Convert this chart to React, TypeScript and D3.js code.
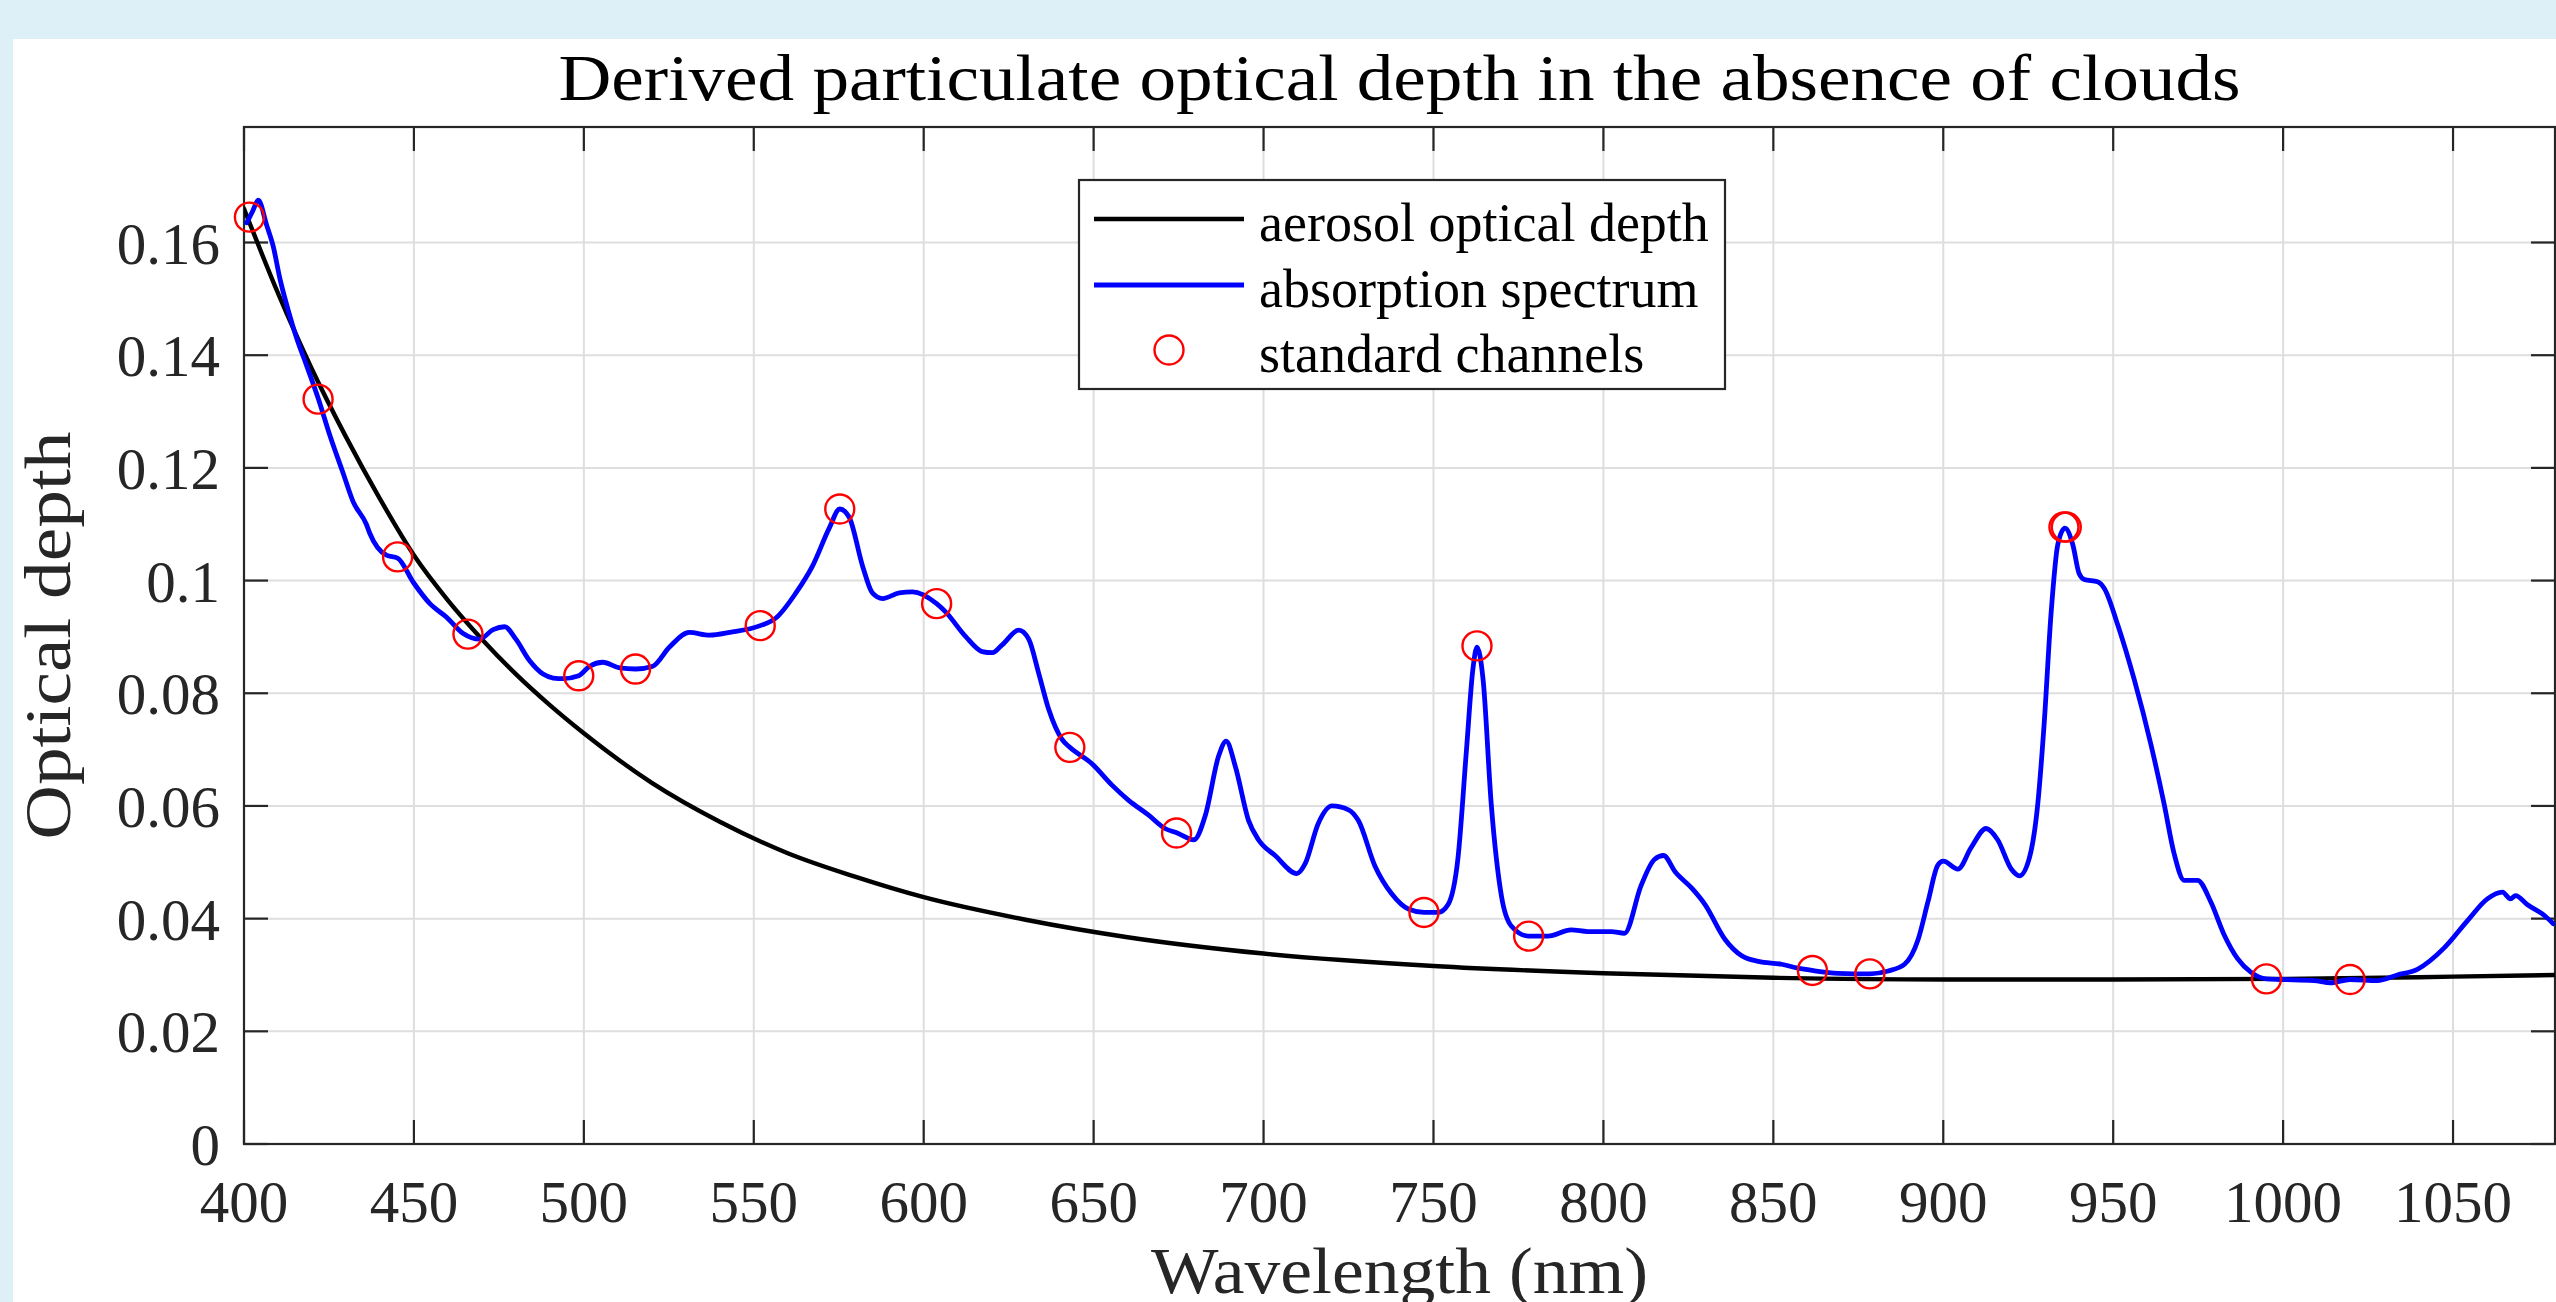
import * as d3 from 'd3'

// aerosol optical depth (black smooth curve)
const aodWl = [400, 410, 420, 430, 440, 450, 460, 470, 480, 490, 500, 520, 540, 560, 580, 600, 630, 660, 700, 750, 800, 850, 900, 950, 1000, 1050, 1080]
const aodVal = [0.166, 0.151, 0.1375, 0.1255, 0.1145, 0.1045, 0.0965, 0.0896, 0.0834, 0.0779, 0.0729, 0.0641, 0.0572, 0.0516, 0.0474, 0.0438, 0.0398, 0.0367, 0.0338, 0.0316, 0.0303, 0.0295, 0.0292, 0.0292, 0.0293, 0.0297, 0.03]

// absorption spectrum (blue)
const specWl = [
  400.8, 402.5, 404.2, 406.7, 408.6, 410.6, 413, 415.5, 418.4, 421.8, 425.3, 429.2, 432.1, 436, 437, 441.9, 445.2, 449.8,
  454.7, 459.6, 464.5, 469.3, 473.3, 476.7, 480, 484, 488, 491, 494, 498.5, 501.7, 505.6, 510.5, 515.2, 520.3, 525.2,
  531, 537, 543, 551.9, 556.6, 562.4, 567.3, 572.2, 575.3, 578.1, 582, 584.9, 587.9, 592.8, 596.7, 603.8, 606.5, 612.3,
  617.2, 620.2, 623.1, 628, 630.9, 633.9, 636.8, 640.7, 643, 649.5, 655.4, 660.3, 666.1, 671, 674.6, 679.5, 682.9, 686.8,
  689, 691.7, 695.6, 698.5, 703.4, 709.8, 712.2, 716.1, 720.1, 725, 727.9, 732.8, 737.7, 742.6, 747.2, 751.4, 754.3,
  757.2, 759.7, 761.6, 762.8, 764.6, 767, 770, 772.9, 778, 783.7, 790.5, 795.4, 802.3, 806.2, 811.1, 815, 817.7, 821.1,
  826, 829.9, 835.8, 840.7, 845.6, 852.4, 857.3, 861.5, 869.1, 878.4, 883.8, 888.6, 892.6, 895.5, 898.4, 900, 904.3,
  908.2, 912.6, 916, 920, 922.4, 925.3, 927.8, 929.7, 931.7, 933.7, 935.8, 938.1, 940, 941.5, 945.4, 947.4, 951.3,
  956.2, 961.1, 965, 967.9, 970.9, 974.8, 978.7, 982.6, 986.6, 990.5, 995.1, 999.3, 1009.1, 1014, 1019.7, 1027.7,
  1033.6, 1039.5, 1047.4, 1054.2, 1060.1, 1064.5, 1066.9, 1068.4, 1071.8, 1076.8, 1079.5,
]
const specVal = [
  0.1635, 0.1655, 0.1675, 0.163, 0.1593, 0.1535, 0.148, 0.143, 0.1382, 0.1324, 0.1257, 0.119, 0.114, 0.11, 0.1084, 0.1045, 0.104, 0.0997,
  0.0959, 0.0935, 0.0906, 0.0896, 0.0913, 0.0918, 0.0896, 0.0858, 0.0834, 0.0827, 0.0826, 0.0831, 0.0848, 0.0855, 0.0845, 0.0843, 0.0848, 0.0882,
  0.0908, 0.0903, 0.0908, 0.092, 0.0934, 0.0978, 0.1026, 0.1093, 0.1127, 0.1112, 0.1026, 0.0978, 0.0968, 0.0978, 0.098, 0.0959, 0.0944, 0.0901,
  0.0874, 0.0872, 0.0886, 0.0912, 0.0896, 0.0834, 0.0771, 0.0718, 0.0704, 0.0675, 0.0637, 0.061, 0.0584, 0.056, 0.0552, 0.054, 0.0584, 0.0689,
  0.0715, 0.067, 0.0574, 0.054, 0.0512, 0.048, 0.0497, 0.0569, 0.06, 0.0593, 0.0574, 0.0493, 0.0444, 0.0417, 0.0411, 0.0411, 0.0425,
  0.0507, 0.0699, 0.0843, 0.0882, 0.0824, 0.0603, 0.044, 0.0387, 0.0369, 0.0369, 0.038, 0.0377, 0.0377, 0.0374, 0.0459, 0.0505, 0.0512, 0.0483,
  0.0454, 0.0425, 0.0363, 0.0334, 0.0324, 0.0319, 0.0312, 0.0308, 0.0303, 0.0302, 0.0307, 0.0319, 0.0363, 0.043, 0.0495, 0.0502, 0.0488,
  0.0526, 0.056, 0.054, 0.0488, 0.0476, 0.0507, 0.0603, 0.0747, 0.094, 0.1064, 0.1093, 0.1064, 0.1012, 0.1002, 0.0998, 0.0986, 0.0922,
  0.0824, 0.0709, 0.0603, 0.0516, 0.0468, 0.0468, 0.043, 0.0372, 0.0329, 0.0305, 0.0293, 0.0292, 0.029, 0.0286, 0.0292, 0.029,
  0.03, 0.031, 0.0348, 0.0396, 0.0435, 0.0447, 0.0435, 0.0441, 0.0425, 0.0406, 0.0391,
]

// standard channels (red circles)
const chanWl = [401.6, 421.8, 445.2, 465.9, 498.5, 515.2, 551.9, 575.3, 603.8, 643, 674.4, 747.2, 762.8, 778, 861.5, 878.4, 935.5, 936.2, 995.1, 1019.7]
const chanVal = [0.1645, 0.1322, 0.1042, 0.0905, 0.0831, 0.0843, 0.092, 0.1127, 0.0959, 0.0704, 0.0552, 0.0411, 0.0884, 0.0369, 0.0308, 0.0302, 0.1095, 0.1095, 0.0293, 0.0292]

const xTicks = [400, 450, 500, 550, 600, 650, 700, 750, 800, 850, 900, 950, 1000, 1050]
const yTicks = [0, 0.02, 0.04, 0.06, 0.08, 0.1, 0.12, 0.14, 0.16]

const legendLabels = ['aerosol optical depth', 'absorption spectrum', 'standard channels']

const W = 2556
const H = 1302
const L = 244
const R = 2555
const T = 127
const B = 1144
const AX = '#262626'
const GRID = '#dedede'
const TIMES = '"Liberation Serif", "Times New Roman", serif'

export default function App() {
  const x = d3.scaleLinear().domain([400, 1080]).range([L, R])
  const y = d3.scaleLinear().domain([0, 0.1805]).range([B, T])

  const line = d3
    .line<[number, number]>()
    .x(d => x(d[0]))
    .y(d => y(d[1]))
    .curve(d3.curveMonotoneX)

  const aodPath = line(aodWl.map((w, i) => [w, aodVal[i]])) || ''
  const specPath = line(specWl.map((w, i) => [w, specVal[i]])) || ''

  const tickLen = 24
  const fmt = (v: number) => String(+v.toFixed(2))

  // legend box
  const lgX = 1079
  const lgY = 180
  const lgW = 646
  const lgH = 209
  const rowY = [219, 285, 350]

  return (
    <svg
      width={W}
      height={H}
      style={{ position: 'fixed', left: 0, top: 0, display: 'block' }}
    >
      <defs>
        <clipPath id="plotClip">
          <rect x={L} y={T} width={R - L} height={B - T} />
        </clipPath>
      </defs>
      <rect x={0} y={0} width={W} height={H} fill="#def0f7" />
      <rect x={13} y={39} width={W - 13} height={H - 39} fill="#ffffff" />

      {/* grid */}
      <g stroke={GRID} strokeWidth={2}>
        {xTicks.map(t => (
          <line key={'gx' + t} x1={x(t)} x2={x(t)} y1={T} y2={B} />
        ))}
        {yTicks.map(t => (
          <line key={'gy' + t} x1={L} x2={R} y1={y(t)} y2={y(t)} />
        ))}
      </g>

      {/* axes box + ticks */}
      <g stroke={AX} strokeWidth={2.2} fill="none">
        <rect x={L} y={T} width={R - L} height={B - T} />
        {xTicks.map(t => (
          <g key={'tx' + t}>
            <line x1={x(t)} x2={x(t)} y1={B} y2={B - tickLen} />
            <line x1={x(t)} x2={x(t)} y1={T} y2={T + tickLen} />
          </g>
        ))}
        {yTicks.map(t => (
          <g key={'ty' + t}>
            <line x1={L} x2={L + tickLen} y1={y(t)} y2={y(t)} />
            <line x1={R} x2={R - tickLen} y1={y(t)} y2={y(t)} />
          </g>
        ))}
      </g>

      {/* data */}
      <g clipPath="url(#plotClip)" fill="none" strokeLinejoin="round" strokeLinecap="round">
        <path d={aodPath} stroke="#000000" strokeWidth={4.4} />
        <path d={specPath} stroke="#0000ff" strokeWidth={4.8} />
      </g>
      <g fill="none" stroke="#ff0000" strokeWidth={2.4}>
        {chanWl.map((w, i) => (
          <circle key={'c' + i} cx={x(w)} cy={y(chanVal[i])} r={14.5} />
        ))}
      </g>

      {/* tick labels */}
      <g fontFamily={TIMES} fontSize={59} fill="#262626">
        {xTicks.map(t => (
          <text key={'lx' + t} x={x(t)} y={1222} textAnchor="middle">
            {t}
          </text>
        ))}
        {yTicks.map(t => (
          <text key={'ly' + t} x={220} y={y(t) + 21} textAnchor="end">
            {fmt(t)}
          </text>
        ))}
      </g>

      {/* title and axis labels */}
      <g fontFamily={TIMES} fontSize={65} fill="#000000">
        <text x={(L + R) / 2} y={100} textAnchor="middle" textLength={1682} lengthAdjust="spacingAndGlyphs">
          Derived particulate optical depth in the absence of clouds
        </text>
        <text x={(L + R) / 2} y={1293} textAnchor="middle" textLength={497} lengthAdjust="spacingAndGlyphs" fill="#262626">
          Wavelength (nm)
        </text>
        <text
          transform={`translate(70,${(T + B) / 2}) rotate(-90)`}
          textAnchor="middle"
          textLength={408}
          lengthAdjust="spacingAndGlyphs"
          fill="#262626"
        >
          Optical depth
        </text>
      </g>

      {/* legend */}
      <g>
        <rect x={lgX} y={lgY} width={lgW} height={lgH} fill="#ffffff" stroke={AX} strokeWidth={2.2} />
        <line x1={1094} x2={1244} y1={rowY[0]} y2={rowY[0]} stroke="#000000" strokeWidth={4.4} />
        <line x1={1094} x2={1244} y1={rowY[1]} y2={rowY[1]} stroke="#0000ff" strokeWidth={4.8} />
        <circle cx={1169} cy={rowY[2]} r={14.5} fill="none" stroke="#ff0000" strokeWidth={2.4} />
        {legendLabels.map((s, i) => (
          <text key={s} x={1259} y={rowY[i] + 22} fontFamily={TIMES} fontSize={54} fill="#000000">
            {s}
          </text>
        ))}
      </g>
    </svg>
  )
}
